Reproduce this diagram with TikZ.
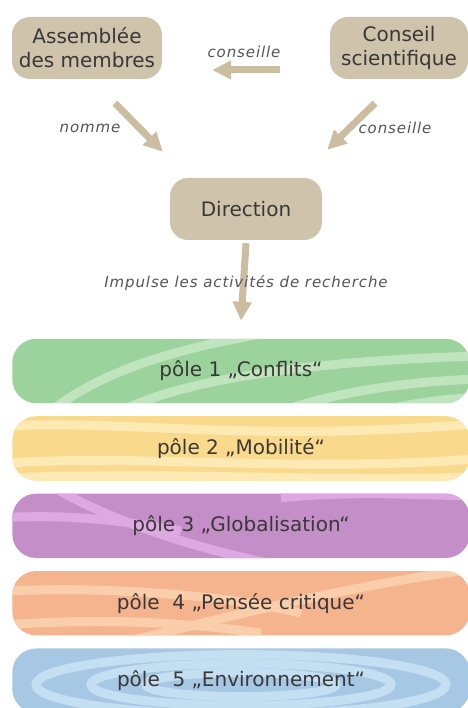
\documentclass[tikz,border=0pt]{standalone}
\usepackage{fontspec}
\setmainfont{DejaVu Sans}
\newfontfamily\notefont[LetterSpace=6]{DejaVu Sans}
\usetikzlibrary{positioning,arrows.meta,calc,backgrounds}

\definecolor{tanbox}{RGB}{207,195,172}
\definecolor{arrowtan}{RGB}{204,188,160}
\definecolor{inkgrey}{RGB}{58,56,54}
\definecolor{notegrey}{RGB}{85,85,85}
\definecolor{poleGreen}{RGB}{156,210,156}
\definecolor{poleGreenLt}{RGB}{192,228,190}
\definecolor{poleYellow}{RGB}{249,217,140}
\definecolor{poleYellowLt}{RGB}{252,233,180}
\definecolor{polePurple}{RGB}{196,142,200}
\definecolor{polePurpleLt}{RGB}{222,168,226}
\definecolor{poleOrange}{RGB}{245,180,142}
\definecolor{poleOrangeLt}{RGB}{250,206,170}
\definecolor{poleBlue}{RGB}{166,200,228}
\definecolor{poleBlueLt}{RGB}{196,222,242}

\begin{document}
\begin{tikzpicture}[
  x=1pt,y=-1pt,
  box/.style={fill=tanbox,rounded corners=18pt,minimum height=62pt,inner sep=0pt,
    align=center,text=inkgrey,font=\fontsize{20}{24}\selectfont},
  pole/.style={minimum width=457pt,minimum height=64pt,inner sep=0pt,
    text=inkgrey,font=\fontsize{20}{24}\selectfont},
  barshape/.style={rounded corners=24pt},
  note/.style={text=notegrey,font=\notefont\itshape\fontsize{15}{17}\selectfont},
  stripe/.style={line width=9pt},
  every edge/.style={draw=arrowtan,line width=7pt,-{Triangle[length=19pt,width=18pt]}},
]
  \useasboundingbox (0,0) rectangle (467,708);

  % Governance layer
  \node[box,minimum width=150pt] (assemblee) at (87,48) {Assemblée\\des membres};
  \node[box,minimum width=138pt] (conseil) at (399,48) {Conseil\\scientifique};
  \node[box,minimum width=152pt] (direction) at (246,209) {Direction};

  % Research poles
  \node[pole] (pole1) at (241,371) {pôle 1 „Conflits“};
  \node[pole,below=13pt of pole1] (pole2) {pôle 2 „Mobilité“};
  \node[pole,below=13pt of pole2] (pole3) {pôle 3 „Globalisation“};
  \node[pole,below=13pt of pole3] (pole4) {pôle~ 4 „Pensée critique“};
  \node[pole,below=13pt of pole4] (pole5) {pôle~ 5 „Environnement“};

  % Pole backgrounds with light waves
  \begin{scope}[on background layer]
    \foreach \p/\c in {pole1/poleGreen,pole2/poleYellow,pole3/polePurple,pole4/poleOrange,pole5/poleBlue}
      \fill[\c,barshape] (\p.north west) rectangle (\p.south east);

    \begin{scope}
      \clip[barshape] (pole1.north west) rectangle (pole1.south east);
      \begin{scope}[shift={(pole1.center)},stripe,draw=poleGreenLt]
        \draw (-190,40) .. controls (-140,0) and (-60,-25) .. (40,-40);
        \draw (-120,40) .. controls (-60,10) and (60,-10) .. (240,-15);
        \draw (40,40) .. controls (100,20) and (170,10) .. (240,8);
        \draw (140,40) .. controls (180,30) and (210,28) .. (240,26);
      \end{scope}
    \end{scope}
    \begin{scope}
      \clip[barshape] (pole2.north west) rectangle (pole2.south east);
      \begin{scope}[shift={(pole2.center)},stripe,draw=poleYellowLt]
        \draw (-240,-22) .. controls (-120,-30) and (0,-5) .. (240,-25);
        \draw (-240,15) .. controls (-100,5) and (60,25) .. (240,10);
        \draw (-240,30) .. controls (-80,22) and (100,35) .. (240,28);
      \end{scope}
    \end{scope}
    \begin{scope}
      \clip[barshape] (pole3.north west) rectangle (pole3.south east);
      \begin{scope}[shift={(pole3.center)},stripe,draw=polePurpleLt]
        \draw (-190,-40) .. controls (-140,-10) and (-60,20) .. (40,40);
        \draw (40,-28) .. controls (120,-36) and (180,-30) .. (240,-30);
        \draw (-240,-8) .. controls (-170,-12) and (-120,-5) .. (-60,5);
      \end{scope}
    \end{scope}
    \begin{scope}
      \clip[barshape] (pole4.north west) rectangle (pole4.south east);
      \begin{scope}[shift={(pole4.center)},stripe,draw=poleOrangeLt]
        \draw (-240,-12) .. controls (-120,-18) and (0,-5) .. (60,10);
        \draw (-120,40) .. controls (0,10) and (120,-20) .. (240,-35);
        \draw (-240,22) .. controls (-150,15) and (-60,18) .. (20,30);
      \end{scope}
    \end{scope}
    \begin{scope}
      \clip[barshape] (pole5.north west) rectangle (pole5.south east);
      \begin{scope}[shift={(pole5.center)},stripe,draw=poleBlueLt]
        \draw (0,4) ellipse [x radius=205pt,y radius=30pt];
        \draw (0,4) ellipse [x radius=150pt,y radius=21pt];
        \draw (0,4) ellipse [x radius=95pt,y radius=12pt];
      \end{scope}
    \end{scope}
  \end{scope}

  % Edges: advice and nomination
  \path ([yshift=-22pt]conseil.west) edge[shorten <=50pt,shorten >=50pt] ([yshift=-22pt]assemblee.east);
  \path ([shift={(28,24)}]assemblee.south) edge ([shift={(-7,-26)}]direction.north west);
  \path ([shift={(-24,24)}]conseil.south) edge ([shift={(5,-28)}]direction.north east);

  % Edges: research
  \path ([yshift=-3pt]direction.south) edge ([yshift=18pt]pole1.north);

  % Edge labels
  \node[note] (adviseTop) at (244,52) {conseille};
  \node[note] (appoint) at (90,128) {nomme};
  \node[note] (adviseRight) at (395,128) {conseille};
  \node[note] (impulse) at (246,283) {Impulse les activités de recherche};
\end{tikzpicture}
\end{document}
